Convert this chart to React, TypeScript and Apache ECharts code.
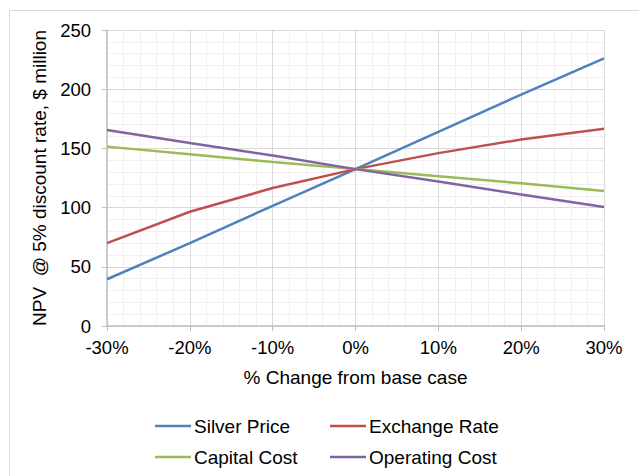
import React, { useEffect, useRef } from "react";
import * as echarts from "echarts";

const changes = [-30, -20, -10, 0, 10, 20, 30];
const silverPrice = [39.5, 70, 101.5, 132.5, 164, 195.5, 226];
const exchangeRate = [70, 96.5, 116.5, 132.5, 146, 157.5, 166.5];
const capitalCost = [151.5, 145, 138.5, 132.5, 126.5, 120.5, 114];
const operatingCost = [165.5, 154.5, 144, 132.5, 122, 111, 100.5];
const seriesNames = ["Silver Price", "Exchange Rate", "Capital Cost", "Operating Cost"];
const seriesColors = ["#4f81bd", "#c0504d", "#9bbb59", "#8064a2"];

export default function App() {
  const ref = useRef<HTMLDivElement>(null);
  useEffect(() => {
    if (!ref.current) return;
    const chart = echarts.init(ref.current, undefined, { renderer: "svg" });
    const font = "'Liberation Sans', Arial, sans-serif";
    const allData = [silverPrice, exchangeRate, capitalCost, operatingCost];
    const legendPos = [
      { left: 155, top: 416 },
      { left: 330, top: 416 },
      { left: 155, top: 447 },
      { left: 330, top: 447 },
    ];
    chart.setOption({
      animation: false,
      backgroundColor: "#ffffff",
      textStyle: { fontFamily: font },
      graphic: [
        {
          type: "rect",
          shape: { x: 9.5, y: 10.5, width: 700, height: 500 },
          style: { fill: "none", stroke: "#d9d9d9", lineWidth: 1 },
          silent: true,
        },
      ],
      grid: { left: 107, top: 30, right: 35, bottom: 150 },
      xAxis: {
        type: "value",
        min: -30,
        max: 30,
        interval: 10,
        name: "% Change from base case",
        nameLocation: "middle",
        nameGap: 42,
        nameTextStyle: { fontSize: 19, color: "#000", fontFamily: font },
        axisLine: { show: true, lineStyle: { color: "#bfbfbf", width: 1.5 } },
        axisTick: { show: true, length: 5, lineStyle: { color: "#bfbfbf" } },
        axisLabel: { formatter: (v: number) => `${v}%`, fontSize: 18.5, color: "#000", margin: 12, fontFamily: font },
        splitLine: { show: true, lineStyle: { color: "#d9d9d9", width: 1 } },
        minorTick: { show: false, splitNumber: 5 },
        minorSplitLine: { show: true, lineStyle: { color: "#f0f0f0", width: 1 } },
      },
      yAxis: {
        type: "value",
        min: 0,
        max: 250,
        interval: 50,
        name: "NPV  @ 5% discount rate, $ million",
        nameLocation: "middle",
        nameGap: 56,
        nameTextStyle: { fontSize: 19, color: "#000", fontFamily: font },
        axisLine: { show: true, onZero: false, lineStyle: { color: "#bfbfbf", width: 1.5 } },
        axisTick: { show: true, length: 5, lineStyle: { color: "#bfbfbf" } },
        axisLabel: { fontSize: 18.5, color: "#000", margin: 16, fontFamily: font },
        splitLine: { show: true, lineStyle: { color: "#d9d9d9", width: 1 } },
        minorTick: { show: false, splitNumber: 5 },
        minorSplitLine: { show: true, lineStyle: { color: "#f0f0f0", width: 1 } },
      },
      legend: seriesNames.map((name, i) => ({
        orient: "horizontal",
        left: legendPos[i].left,
        top: legendPos[i].top,
        padding: 0,
        icon: "rect",
        itemWidth: 36,
        itemHeight: 2.5,
        data: [name],
        textStyle: { fontSize: 19, color: "#000", lineHeight: 20, fontFamily: font, padding: [0, 0, 0, -2] },
      })),
      series: seriesNames.map((name, i) => ({
        name,
        type: "line",
        data: changes.map((c, j) => [c, allData[i][j]]),
        symbol: "none",
        color: seriesColors[i],
        lineStyle: { width: 2.5, color: seriesColors[i] },
      })),
    });
    return () => chart.dispose();
  }, []);
  return (
    <div
      ref={ref}
      style={{ position: "fixed", left: 0, top: 0, width: 639, height: 476 }}
    />
  );
}
